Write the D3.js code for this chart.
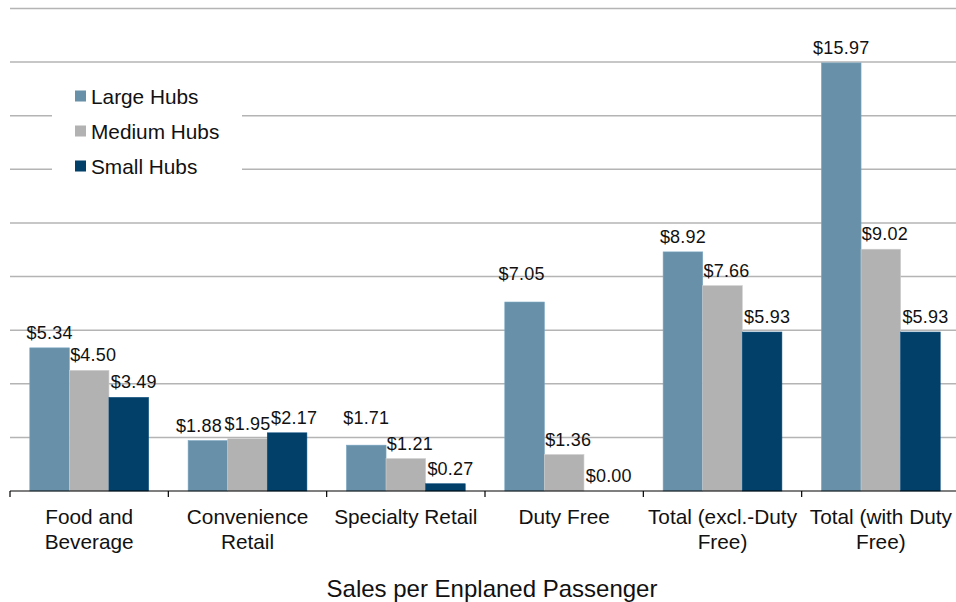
<!DOCTYPE html>
<html>
<head>
<meta charset="utf-8">
<script src="https://cdn.jsdelivr.net/npm/d3@7"></script>
<style>
  body { margin: 0; background: #fff; }
  svg { display: block; font-family: "Liberation Sans", Arial, sans-serif; }
</style>
</head>
<body>
<svg id="chart" width="956" height="602"></svg>
<script>
// chart data
const categories = [
  ['Food and', 'Beverage'],
  ['Convenience', 'Retail'],
  ['Specialty Retail'],
  ['Duty Free'],
  ['Total (excl.-Duty', 'Free)'],
  ['Total (with Duty', 'Free)']
];
const series = ['Large Hubs', 'Medium Hubs', 'Small Hubs'];
const largeHubs = [5.34, 1.88, 1.71, 7.05, 8.92, 15.97];
const mediumHubs = [4.50, 1.95, 1.21, 1.36, 7.66, 9.02];
const smallHubs = [3.49, 2.17, 0.27, 0.00, 5.93, 5.93];
const gridTicks = [0, 2, 4, 6, 8, 10, 12, 14, 16, 18];
const colors = ['#6890a8', '#b2b2b2', '#023f69'];
const axisTitle = 'Sales per Enplaned Passenger';

// label placement tweaks (hand-moved labels in the original)
const seriesDx = [0, 4, 5];
const labelNudge = {
  '1|0': [-9, 0], '1|1': [-4, 0], '1|2': [2, 0],
  '2|0': [0, -12],
  '3|0': [-3, -13]
};

const values = [largeHubs, mediumHubs, smallHubs];
const catKeys = categories.map(c => c.join(' '));

const svg = d3.select('#chart');

const x = d3.scaleBand().domain(catKeys).range([10, 960]).padding(0);
const xs = d3.scaleBand().domain(series).range([0, x.bandwidth()])
    .paddingInner(0).paddingOuter(0.5);
const y = d3.scaleLinear().domain([0, 18]).range([491, 8.5]);

// gridlines
svg.append('g').selectAll('line')
    .data(gridTicks.filter(t => t > 0))
    .join('line')
    .attr('x1', 10).attr('x2', 956)
    .attr('y1', d => y(d)).attr('y2', d => y(d))
    .attr('stroke', '#b4b4b4').attr('stroke-width', 1.5);

// bars
const groups = svg.append('g').selectAll('g')
    .data(catKeys)
    .join('g')
    .attr('transform', d => `translate(${x(d)},0)`);

const barData = (d, i) => series.map((s, k) => ({s: s, k: k, i: i, v: values[k][i]}));
const nudge = d => labelNudge[d.i + '|' + d.k] || [0, 0];

groups.selectAll('rect')
    .data(barData)
    .join('rect')
    .attr('x', d => xs(d.s))
    .attr('width', xs.bandwidth())
    .attr('y', d => y(d.v))
    .attr('height', d => y(0) - y(d.v))
    .attr('fill', d => colors[d.k])
    .attr('stroke', d => d3.color(colors[d.k]).brighter(0.4))
    .attr('stroke-width', 0.6);

groups.selectAll('text.val')
    .data(barData)
    .join('text')
    .attr('class', 'val')
    .attr('x', d => xs(d.s) + xs.bandwidth() / 2 + seriesDx[d.k] + nudge(d)[0])
    .attr('y', d => y(d.v) - 9 + nudge(d)[1])
    .attr('text-anchor', 'middle')
    .attr('font-size', 18)
    .attr('letter-spacing', 0.2)
    .attr('fill', '#111')
    .text(d => '$' + d.v.toFixed(2));

// x axis
const xAxis = svg.append('g').attr('transform', `translate(0,${y(0)})`);
xAxis.append('line')
    .attr('x1', 10).attr('x2', 956)
    .attr('stroke', '#000').attr('stroke-width', 1.2);
xAxis.selectAll('line.tick')
    .data(catKeys)
    .join('line')
    .attr('class', 'tick')
    .attr('x1', d => x(d)).attr('x2', d => x(d))
    .attr('y1', 0).attr('y2', 6)
    .attr('stroke', '#000').attr('stroke-width', 1.2);

const catText = xAxis.selectAll('text.cat')
    .data(categories)
    .join('text')
    .attr('class', 'cat')
    .attr('x', (d, i) => x(catKeys[i]) + x.bandwidth() / 2)
    .attr('y', 33)
    .attr('text-anchor', 'middle')
    .attr('font-size', 20.8)
    .attr('fill', '#111');
catText.selectAll('tspan')
    .data(d => d)
    .join('tspan')
    .attr('x', function () { return d3.select(this.parentNode).attr('x'); })
    .attr('dy', (d, i) => i === 0 ? 0 : 24.5)
    .text(d => d);

svg.append('text')
    .attr('x', 492)
    .attr('y', 597)
    .attr('text-anchor', 'middle')
    .attr('font-size', 24)
    .attr('fill', '#111')
    .text(axisTitle);

// legend
const legend = svg.append('g');
legend.append('rect')
    .attr('x', 52).attr('y', 76)
    .attr('width', 190).attr('height', 110)
    .attr('fill', '#fff');
const items = legend.selectAll('g')
    .data(series)
    .join('g')
    .attr('transform', (d, i) => `translate(75,${96 + i * 35})`);
items.append('rect')
    .attr('x', 0).attr('y', -5.5)
    .attr('width', 11).attr('height', 11)
    .attr('fill', (d, i) => colors[i]);
items.append('text')
    .attr('x', 16).attr('y', 7.5)
    .attr('font-size', 20.8)
    .attr('fill', '#111')
    .text(d => d);
</script>
</body>
</html>
